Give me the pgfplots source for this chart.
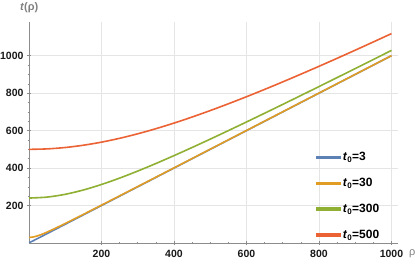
\documentclass[border=0pt]{standalone}
\usepackage{fontspec}
\setmainfont{Liberation Sans}
\usepackage{pgfplots}
\pgfplotsset{compat=1.18}
\definecolor{mBlue}{rgb}{0.368,0.507,0.710}
\definecolor{mOrange}{rgb}{0.881,0.611,0.142}
\definecolor{mGreen}{rgb}{0.560,0.692,0.195}
\definecolor{mRed}{rgb}{0.923,0.386,0.209}
\begin{document}
\begin{tikzpicture}
\path[use as bounding box] (-29pt,-20pt) rectangle (386pt,243pt);
\begin{axis}[
  at={(0pt,0pt)}, anchor=south west,
  scale only axis, width=369pt, height=221pt,
  xmin=0, xmax=1018, ymin=0, ymax=1180,
  axis lines=left, axis line style={draw=black!45, -},
  xtick={200,400,600,800,1000}, ytick={200,400,600,800,1000},
  minor tick num=3,
  major tick length=4pt, minor tick length=2.5pt,
  tick style={draw=black!45, line width=0.5pt},
  grid=major, major grid style={draw=black!10, line width=0.5pt},
  /pgf/number format/assume math mode=true,
  /pgf/number format/1000 sep={},
  ticklabel style={font=\fontsize{10.5}{12}\selectfont\bfseries, text=black!90},
  xticklabel style={yshift=-2pt},
  xlabel={ρ}, ylabel={\textit{t}(ρ)},
  xlabel style={at={(axis description cs:1,0)}, anchor=north west, inner sep=0pt, xshift=11pt, yshift=-6pt, font=\fontsize{11}{13}\selectfont, text=black!50},
  ylabel style={at={(axis description cs:0,1)}, rotate=-90, anchor=south west, inner sep=0pt, xshift=-9pt, yshift=9pt, font=\fontsize{11}{13}\selectfont\bfseries, text=black!50},
  legend style={at={(axis description cs:0.778,0.42)}, anchor=north west, draw=none, fill=none,
    font=\fontsize{12}{14}\selectfont\bfseries, row sep=12pt, inner sep=0pt,
    /tikz/every even column/.append style={column sep=5pt}},
  legend cell align=left,
  legend image code/.code={\fill[#1] (0pt,-0.8pt) rectangle (23pt,0.8pt);},
]
\addplot[mBlue, line width=1.6pt, smooth] coordinates {(0,3) (2,3.61) (5,5.83) (10,10.44) (20,20.22) (50,50.09) (100,100.04) (200,200.02) (500,500.01) (1000,1000.0)};
\addlegendentry{\textit{t}\textsubscript{0}=3}
\addplot[mOrange, line width=1.6pt, smooth] coordinates {(0,30) (10,31.62) (20,36.06) (30,42.43) (40,50) (50,58.31) (75,80.78) (100,104.40) (150,152.97) (200,202.24) (300,301.50) (400,401.12) (500,500.90) (600,600.75) (700,700.64) (800,800.56) (900,900.50) (1000,1000.45)};
\addlegendentry{\textit{t}\textsubscript{0}=30}
\addplot[mGreen, line width=1.6pt, smooth] coordinates {(0,240) (50,245.15) (100,260) (150,283.02) (200,312.41) (250,346.55) (300,384.19) (350,424.38) (400,466.48) (450,510) (500,554.62) (550,600.08) (600,646.22) (650,692.89) (700,740) (750,787.46) (800,835.22) (850,883.23) (900,931.45) (950,979.85) (1000,1028.40)};
\addlegendentry{\textit{t}\textsubscript{0}=300}
\addplot[mRed, line width=1.6pt, smooth] coordinates {(0,500) (50,502.49) (100,509.90) (150,522.02) (200,538.52) (250,559.02) (300,583.10) (350,610.33) (400,640.31) (450,672.68) (500,707.11) (550,743.30) (600,781.02) (650,820.06) (700,860.23) (750,901.39) (800,943.40) (850,986.15) (900,1029.56) (950,1073.55) (1000,1118.03)};
\addlegendentry{\textit{t}\textsubscript{0}=500}
\end{axis}
\end{tikzpicture}
\end{document}
